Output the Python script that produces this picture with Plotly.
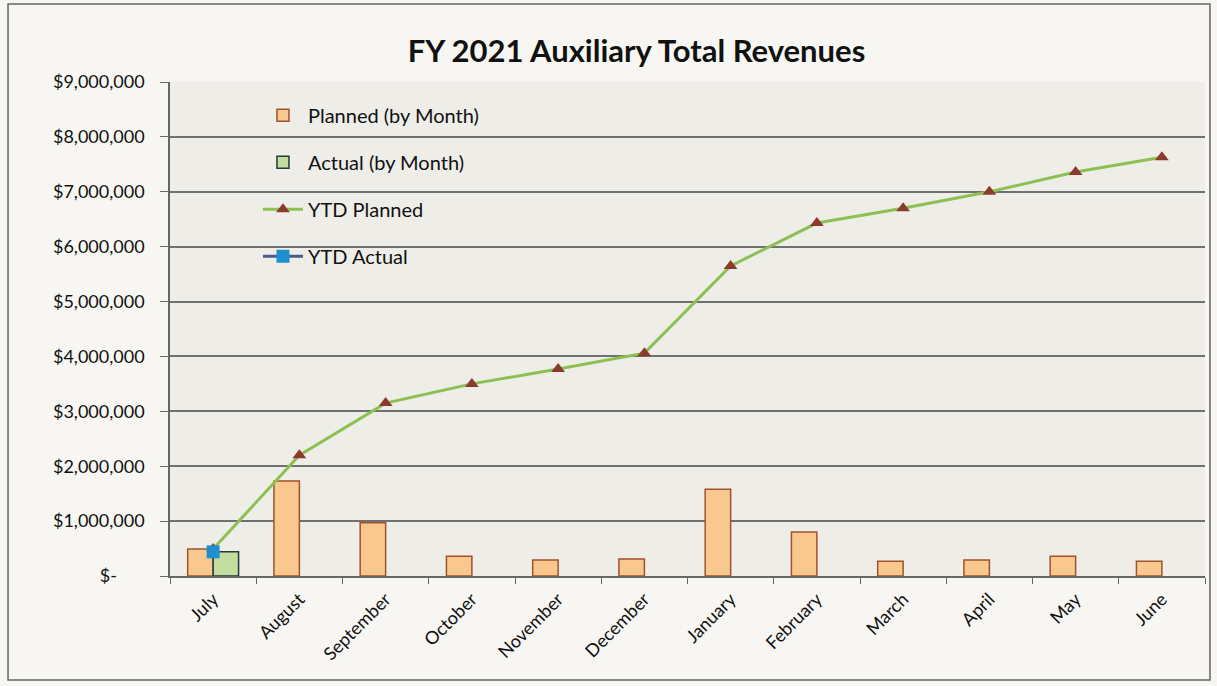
import plotly.graph_objects as go

months = ["July", "August", "September", "October", "November", "December",
          "January", "February", "March", "April", "May", "June"]
planned_month = [490000, 1730000, 970000, 360000, 290000, 310000,
                 1580000, 800000, 270000, 290000, 360000, 270000]
actual_month = [440000, None, None, None, None, None, None, None, None, None, None, None]
ytd_planned = [490000, 2200000, 3150000, 3500000, 3770000, 4060000,
               5650000, 6430000, 6700000, 7000000, 7360000, 7630000]
ytd_actual = [440000, None, None, None, None, None, None, None, None, None, None, None]

tick_vals = [0, 1000000, 2000000, 3000000, 4000000, 5000000, 6000000, 7000000, 8000000, 9000000]
tick_text = ["$-      ", "$1,000,000", "$2,000,000", "$3,000,000", "$4,000,000",
             "$5,000,000", "$6,000,000", "$7,000,000", "$8,000,000", "$9,000,000"]

font_family = "Lato, 'Open Sans', sans-serif"

fig = go.Figure()
fig.add_trace(go.Bar(x=months, y=planned_month, name="Planned (by Month)",
                     marker=dict(color="#f9c88f", line=dict(color="#a0522d", width=1.5)),
                     legendgroup="a"))
fig.add_trace(go.Bar(x=months, y=actual_month, name="Actual (by Month)",
                     marker=dict(color="#c5dc9f", line=dict(color="#1f3b3b", width=1.5)),
                     legendgroup="b"))
fig.add_trace(go.Scatter(x=months, y=ytd_planned, name="YTD Planned", mode="lines+markers",
                         line=dict(color="#8cc152", width=3),
                         marker=dict(symbol="triangle-up", size=12, color="#8b3a2e"),
                         legendgroup="c"))
fig.add_trace(go.Scatter(x=months, y=ytd_actual, name="YTD Actual", mode="lines+markers",
                         line=dict(color="#4a5a8a", width=3),
                         marker=dict(symbol="square", size=13, color="#1f8fd0"),
                         legendgroup="d"))

fig.update_layout(
    width=1217, height=686,
    margin=dict(l=170, r=12, t=82, b=110),
    paper_bgcolor="#f7f6f2",
    plot_bgcolor="#eeede8",
    barmode="group",
    bargap=0.41,
    bargroupgap=0,
    font=dict(family=font_family, size=18, color="#111111"),
    title=dict(text="<b>FY 2021 Auxiliary Total Revenues</b>", x=0.523, xanchor="center",
               y=0.925, yanchor="middle", font=dict(size=31, family=font_family, color="#111111")),
    legend=dict(x=0.085, y=0.972, xanchor="left", yanchor="top", bgcolor="rgba(0,0,0,0)",
                tracegroupgap=18, font=dict(size=20), itemwidth=40),
    showlegend=True,
)
fig.update_xaxes(type="category", range=[-0.5, 11.5], tickangle=-45, tickson="boundaries",
                 ticks="outside", ticklen=6, tickcolor="#666666", showline=True,
                 linecolor="#666666", linewidth=1.5, showgrid=False, tickfont=dict(size=18),
                 ticklabelstandoff=4)
fig.update_yaxes(range=[0, 9000000], tickvals=tick_vals, ticktext=tick_text, ticks="outside",
                 ticklen=8, tickcolor="#666666", showline=True, linecolor="#666666", linewidth=1.5,
                 showgrid=True, gridcolor="#707070", gridwidth=1.5, zeroline=False,
                 tickfont=dict(size=18), ticklabelstandoff=12)

fig.add_shape(type="rect", xref="paper", yref="paper", x0=-0.1565, x1=1.0048, y0=-0.2105, y1=1.158,
              line=dict(color="#666666", width=1.5), layer="below")

fig.write_html("out.html", config={"displayModeBar": False},
               post_script="document.body.style.margin='0';document.body.style.overflow='hidden';")
